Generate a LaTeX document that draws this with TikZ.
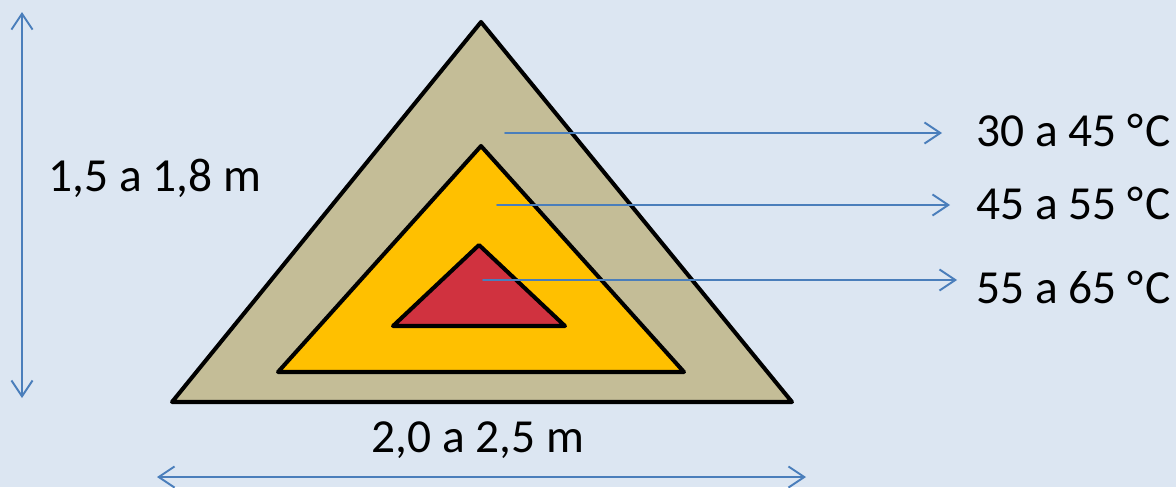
\documentclass[tikz,border=0pt]{standalone}
\usepackage{fontspec}
\setmainfont{Carlito}
\usetikzlibrary{arrows.meta}
\definecolor{fondo}{HTML}{DCE6F2}
\definecolor{capa1}{HTML}{C4BD97}
\definecolor{capa2}{HTML}{FFC000}
\definecolor{capa3}{HTML}{D0323F}
\definecolor{flecha}{HTML}{4A7EBB}
\begin{document}
\begin{tikzpicture}[x=0.02cm, y=-0.02cm, font=\fontsize{27}{32}\selectfont, line join=round, line cap=round,
	capa/.style={draw=black, line width=2.3pt},
	cota/.style={draw=flecha, line width=1.1pt, {Straight Barb[length=9pt,width=12pt]}-{Straight Barb[length=9pt,width=12pt]}},
	temp/.style={draw=flecha, line width=1.1pt, -{Straight Barb[length=9pt,width=12pt]}}]
	\def\ancho{1176} \def\alto{487}
	\fill[fondo] (0,0) rectangle (\ancho,\alto);
	\useasboundingbox (0,0) rectangle (\ancho,\alto);
	% capas de la pila
	\draw[capa, fill=capa1] (481,22) -- (792,402) -- (172,402) -- cycle;
	\draw[capa, fill=capa2] (481,146) -- (684,372) -- (278,372) -- cycle;
	\draw[capa, fill=capa3] (479,245) -- (565,326) -- (393,326) -- cycle;
	% cotas
	\coordinate (altoA) at (22,12);
	\coordinate (altoB) at (22,398);
	\coordinate (anchoA) at (157,477);
	\coordinate (anchoB) at (806,477);
	\draw[cota] (altoB) -- (altoA);
	\draw[cota] (anchoA) -- (anchoB);
	\node[anchor=west, inner sep=0pt] (alto) at (48,178) {1,5 a 1,8 m};
	\node[inner sep=0pt] (base) at (478,440) {2,0 a 2,5 m};
	% temperaturas
	\node[anchor=west, inner sep=0pt] (t1) at (976,130) {30 a 45 °\kern1pt C};
	\node[anchor=west, inner sep=0pt] (t2) at (976,203) {45 a 55 °\kern1pt C};
	\node[anchor=west, inner sep=0pt] (t3) at (976,287) {55 a 65 °\kern1pt C};
	\coordinate (c1) at (505,133); \coordinate (f1) at (942,133);
	\coordinate (c2) at (497,205); \coordinate (f2) at (950,205);
	\coordinate (c3) at (483,280); \coordinate (f3) at (957,280);
	\draw[temp] (c1) -- (f1);
	\draw[temp] (c2) -- (f2);
	\draw[temp] (c3) -- (f3);
\end{tikzpicture}
\end{document}
